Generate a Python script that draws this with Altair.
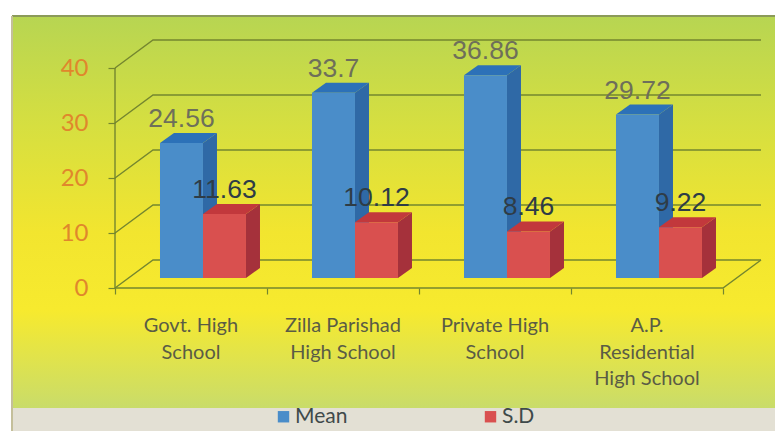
import altair as alt
import pandas as pd

categories = ["Govt. High\nSchool", "Zilla Parishad\nHigh School", "Private High\nSchool", "A.P.\nResidential\nHigh School"]
mean = [24.56, 33.7, 36.86, 29.72]
sd = [11.63, 10.12, 8.46, 9.22]
y_ticks = [0, 10, 20, 30, 40]
x_ticks = [0, 1, 2, 3, 4]

W, H = 767, 423
X0, CAT = 107, 152
Y0, UNIT = 280, 5.5
xs = alt.Scale(domain=[-X0 / CAT, (W - X0) / CAT], nice=False, zero=False)
ys = alt.Scale(domain=[(Y0 - H) / UNIT, Y0 / UNIT], nice=False, zero=False)
WALL_X, WALL_Y = 38 / CAT, 28 / UNIT
DX, DY = 14 / CAT, 10 / UNIT
BASE = 10 / UNIT
BW = 43 / CAT
Y_AXIS = alt.Axis(
    values=y_ticks, orient="left", offset=-X0, domain=False, grid=False, zindex=1, title=None,
    tickColor="#74862f", tickSize=7, tickWidth=1.2, labelPadding=20,
    labelColor="#e0872c", labelFont="Lato", labelFontSize=24, labelOverlap=False)
X_AXIS = alt.Axis(
    values=x_ticks, orient="bottom", offset=-(H - Y0), domain=False, grid=False, zindex=1, title=None,
    labels=False, tickColor="#74862f", tickSize=6, tickWidth=1.2)
X_PLAIN = alt.X("x:Q", scale=xs, axis=X_AXIS)
Y_PLAIN = alt.Y("y:Q", scale=ys, axis=Y_AXIS)

panel = alt.Gradient(
    gradient="linear", x1=0, x2=0, y1=0, y2=1,
    stops=[
        alt.GradientStop(color="#b7d552", offset=0),
        alt.GradientStop(color="#d6df40", offset=0.28),
        alt.GradientStop(color="#f2e52f", offset=0.55),
        alt.GradientStop(color="#f7ea2e", offset=0.75),
        alt.GradientStop(color="#c9dc6a", offset=1),
    ],
)
one = pd.DataFrame({"a": [1]})
bg = [
    alt.Chart(one).mark_rect(fill="#e3e0d4").encode(x=alt.value(4), x2=alt.value(W), y=alt.value(7), y2=alt.value(H)),
    alt.Chart(one).mark_rect(fill=panel).encode(x=alt.value(4), x2=alt.value(W), y=alt.value(8), y2=alt.value(400)),
    alt.Chart(one).mark_rule(color="#8b9a5a", strokeWidth=2).encode(x=alt.value(4), x2=alt.value(W), y=alt.value(8)),
    alt.Chart(one).mark_rule(color="#c4bf9a", strokeWidth=2).encode(x=alt.value(4), y=alt.value(8), y2=alt.value(H)),
]

# back wall and floor outline
rows = []
for v in y_ticks:
    rows += [
        {"g": v, "o": 0, "x": 0, "y": v},
        {"g": v, "o": 1, "x": WALL_X, "y": v + WALL_Y},
        {"g": v, "o": 2, "x": 4 + WALL_X, "y": v + WALL_Y},
    ]
rows += [{"g": "floor", "o": 0, "x": 4 + WALL_X, "y": WALL_Y}, {"g": "floor", "o": 1, "x": 4, "y": 0}, {"g": "floor", "o": 2, "x": 0, "y": 0}]
rows += [{"g": "axis", "o": 0, "x": 0, "y": 0}, {"g": "axis", "o": 1, "x": 0, "y": 40}]
grid = alt.Chart(pd.DataFrame(rows)).mark_line(color="#74862f", strokeWidth=1.4).encode(
    x=X_PLAIN, y=Y_PLAIN, detail="g:N", order="o:Q"
)

series = [("Mean", mean, 0.296, "#2f69a6", "#2c71b8"), ("S.D", sd, 0.296 + BW, "#a5313b", "#c2383c")]
bar_layers = []
for name, vals, start, side_c, top_c in series:
    side, top, front = [], [], []
    for i, v in enumerate(vals):
        l = i + start
        r = l + BW
        t = v + BASE
        side += [{"b": i, "x": r, "y": BASE, "y2": t}, {"b": i, "x": r + DX, "y": BASE + DY, "y2": t + DY}]
        top += [{"b": i, "y": t, "x": l, "x2": r}, {"b": i, "y": t + DY, "x": l + DX, "x2": r + DX}]
        front.append({"s": name, "x": l, "x2": r, "y": BASE, "y2": t})
    bar_layers.append(alt.Chart(pd.DataFrame(side)).mark_area(orient="vertical", color=side_c).encode(
        x=X_PLAIN, y=Y_PLAIN, y2="y2:Q", detail="b:N"))
    bar_layers.append(alt.Chart(pd.DataFrame(top)).mark_area(orient="horizontal", color=top_c).encode(
        y=Y_PLAIN, x=X_PLAIN, x2="x2:Q", detail="b:N"))
    bar_layers.append(alt.Chart(pd.DataFrame(front)).mark_rect().encode(
        x=X_PLAIN, x2="x2:Q", y=Y_PLAIN, y2="y2:Q",
        color=alt.Color("s:N", scale=alt.Scale(domain=["Mean", "S.D"], range=["#4a8dc9", "#d9504f"]),
                        legend=alt.Legend(title=None, orient="none", legendX=265, legendY=398, direction="horizontal",
                                          symbolType="square", symbolSize=130, symbolStrokeWidth=0, columnPadding=132,
                                          labelFont="Lato", labelFontSize=21, labelColor="#3f4a4a", labelOffset=1))))

labels = []
for name, vals, start, col in [("Mean", mean, 0.296, "#6e6f5a"), ("S.D", sd, 0.296 + BW, "#2e3c46")]:
    d = pd.DataFrame({"x": [i + start + BW / 2 for i in range(4)], "y": [v + BASE for v in vals], "t": [str(v) for v in vals]})
    labels.append(alt.Chart(d).mark_text(font="Liberation Sans", fontSize=26.5, color=col, dy=-24, baseline="middle").encode(
        x=X_PLAIN, y=Y_PLAIN, text="t:N"))

cat_df = pd.DataFrame({"x": [i + 0.5 for i in range(4)], "y": [(Y0 - 308) / UNIT] * 4, "t": categories})
cat_text = alt.Chart(cat_df).mark_text(font="Lato", fontSize=20, color="#5a5c45", lineBreak="\n", lineHeight=26.5, baseline="top").encode(
    x=X_PLAIN, y=Y_PLAIN, text="t:N")

chart = alt.layer(*bg, grid, *bar_layers, *labels, cat_text).properties(
    width=W, height=H, padding=0, autosize=alt.AutoSizeParams(type="none"), background="white"
).configure_view(stroke=None)

chart.save("out.html", embed_options={"renderer": "svg", "actions": False})
